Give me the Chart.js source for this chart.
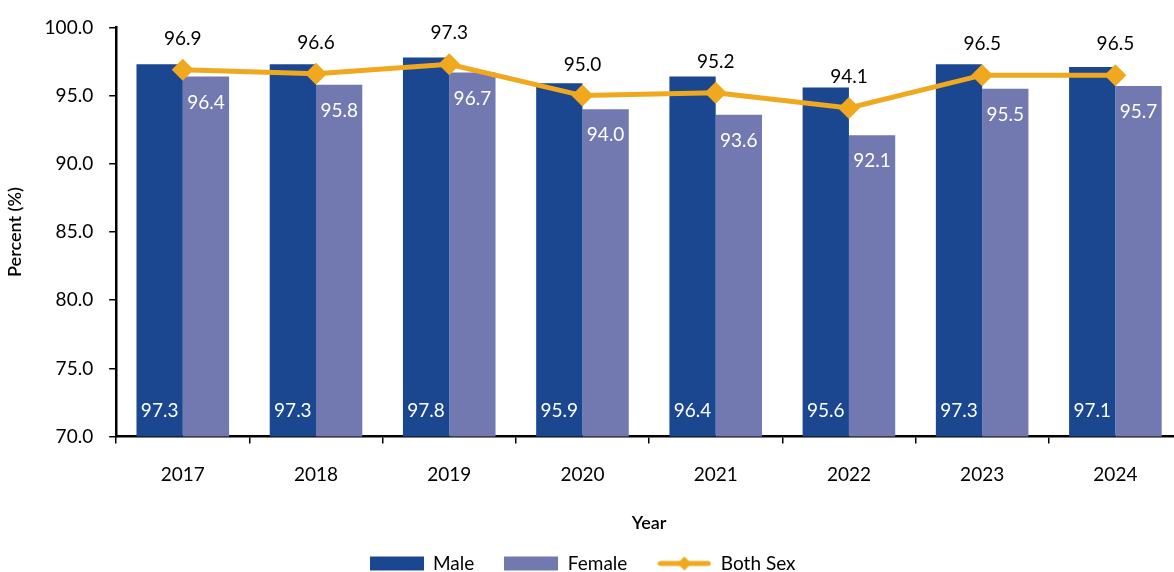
<html lang="">
<head>
    <title>Percent by Year</title>
    <script src="https://cdn.jsdelivr.net/npm/chart.js@4.4.0/dist/chart.umd.min.js"></script>
    <style>
        body { margin: 0; background: #fff; }
        #outer { width: 1174px; height: 572px; overflow: hidden; }
        #wrap { width: 1193px; height: 572px; }
    </style>
</head>
<body>
<div id="outer"><div id="wrap"><canvas id="chart"></canvas></div></div>
<script>
    const years = ['2017', '2018', '2019', '2020', '2021', '2022', '2023', '2024'];
    const maleValues = [97.3, 97.3, 97.8, 95.9, 96.4, 95.6, 97.3, 97.1];
    const femaleValues = [96.4, 95.8, 96.7, 94.0, 93.6, 92.1, 95.5, 95.7];
    const bothSexValues = [96.9, 96.6, 97.3, 95.0, 95.2, 94.1, 96.5, 96.5];

    const maleColor = '#1a4790';
    const femaleColor = '#7179b0';
    const bothColor = '#f0a81e';
    const fontFamily = 'Lato, "Noto Sans", sans-serif';

    function legendIcon(type, color) {
        let c = document.createElement('canvas');
        c.width = 54;
        c.height = 16;
        let g = c.getContext('2d');
        if (type === 'box') {
            g.fillStyle = color;
            g.fillRect(0, 1, 54, 14);
        } else {
            g.strokeStyle = color;
            g.lineWidth = 5;
            g.lineCap = 'round';
            g.beginPath();
            g.moveTo(3, 8);
            g.lineTo(51, 8);
            g.stroke();
            g.fillStyle = color;
            g.beginPath();
            g.moveTo(27, 1);
            g.lineTo(34, 8);
            g.lineTo(27, 15);
            g.lineTo(20, 8);
            g.closePath();
            g.fill();
        }
        return c;
    }

    // draws the numbers on bars and above the line points
    const valueLabels = {
        id: 'valueLabels',
        afterLayout(chart) {
            // canvas is wider than the page, keep legend centred on the visible part
            chart.legend.left -= 14;
            chart.legend.right -= 14;
        },
        afterDatasetsDraw(chart) {
            let ctx = chart.ctx;
            let bottom = chart.chartArea.bottom;
            ctx.save();
            ctx.font = '19px ' + fontFamily;
            ctx.textAlign = 'center';
            ctx.textBaseline = 'middle';
            chart.data.datasets.forEach((ds, i) => {
                let meta = chart.getDatasetMeta(i);
                meta.data.forEach((el, j) => {
                    let v = ds.data[j].toFixed(1);
                    if (ds.label === 'Male') {
                        ctx.fillStyle = '#fff';
                        ctx.fillText(v, el.x, bottom - 26);
                    } else if (ds.label === 'Female') {
                        ctx.fillStyle = '#fff';
                        ctx.fillText(v, el.x, el.y + 26);
                    } else {
                        ctx.fillStyle = '#000';
                        ctx.fillText(v, el.x, el.y - 31);
                    }
                });
            });
            ctx.restore();
        }
    };

    let chart = new Chart(document.getElementById('chart'), {
        type: 'bar',
        data: {
            labels: years,
            datasets: [
                {
                    type: 'line',
                    label: 'Both Sex',
                    data: bothSexValues,
                    borderColor: bothColor,
                    backgroundColor: bothColor,
                    borderWidth: 5,
                    pointStyle: 'rectRot',
                    pointRadius: 11,
                    pointBackgroundColor: bothColor,
                    pointBorderWidth: 0,
                    order: 0
                },
                {label: 'Male', data: maleValues, backgroundColor: maleColor, order: 1},
                {label: 'Female', data: femaleValues, backgroundColor: femaleColor, order: 1}
            ]
        },
        options: {
            responsive: true,
            maintainAspectRatio: false,
            animation: false,
            categoryPercentage: 0.695,
            barPercentage: 1.0,
            layout: {padding: {top: 18, right: 0, left: 0, bottom: -11}},
            plugins: {
                tooltip: {enabled: false},
                legend: {
                    position: 'bottom',
                    labels: {
                        usePointStyle: true,
                        pointStyleWidth: 54,
                        padding: 30,
                        color: '#000',
                        font: {family: fontFamily, size: 19},
                        generateLabels: function (chart) {
                            return [
                                {text: 'Male', pointStyle: legendIcon('box', maleColor), datasetIndex: 1, lineWidth: 0},
                                {text: 'Female', pointStyle: legendIcon('box', femaleColor), datasetIndex: 2, lineWidth: 0},
                                {text: 'Both Sex', pointStyle: legendIcon('line', bothColor), datasetIndex: 0, lineWidth: 0}
                            ];
                        }
                    }
                }
            },
            scales: {
                x: {
                    grid: {offset: true, drawOnChartArea: false, drawTicks: true, tickLength: 7, color: '#000', lineWidth: 1.5},
                    border: {color: '#000', width: 2.5},
                    ticks: {color: '#000', font: {family: fontFamily, size: 19}, padding: 20},
                    title: {display: true, text: 'Year', color: '#000', font: {family: fontFamily, size: 18, weight: '600'}, padding: {top: 6, bottom: -10}}
                },
                y: {
                    min: 70,
                    max: 100,
                    ticks: {
                        stepSize: 5,
                        color: '#000',
                        font: {family: fontFamily, size: 19},
                        padding: 16,
                        callback: v => v.toFixed(1)
                    },
                    grid: {drawOnChartArea: false, drawTicks: true, tickLength: 7, color: '#000', lineWidth: 1.5},
                    border: {color: '#000', width: 2.5},
                    title: {display: true, text: 'Percent (%)', color: '#000', font: {family: fontFamily, size: 18, weight: '600'}, padding: {bottom: 3}}
                }
            }
        },
        plugins: [valueLabels]
    });
</script>
</body>
</html>
